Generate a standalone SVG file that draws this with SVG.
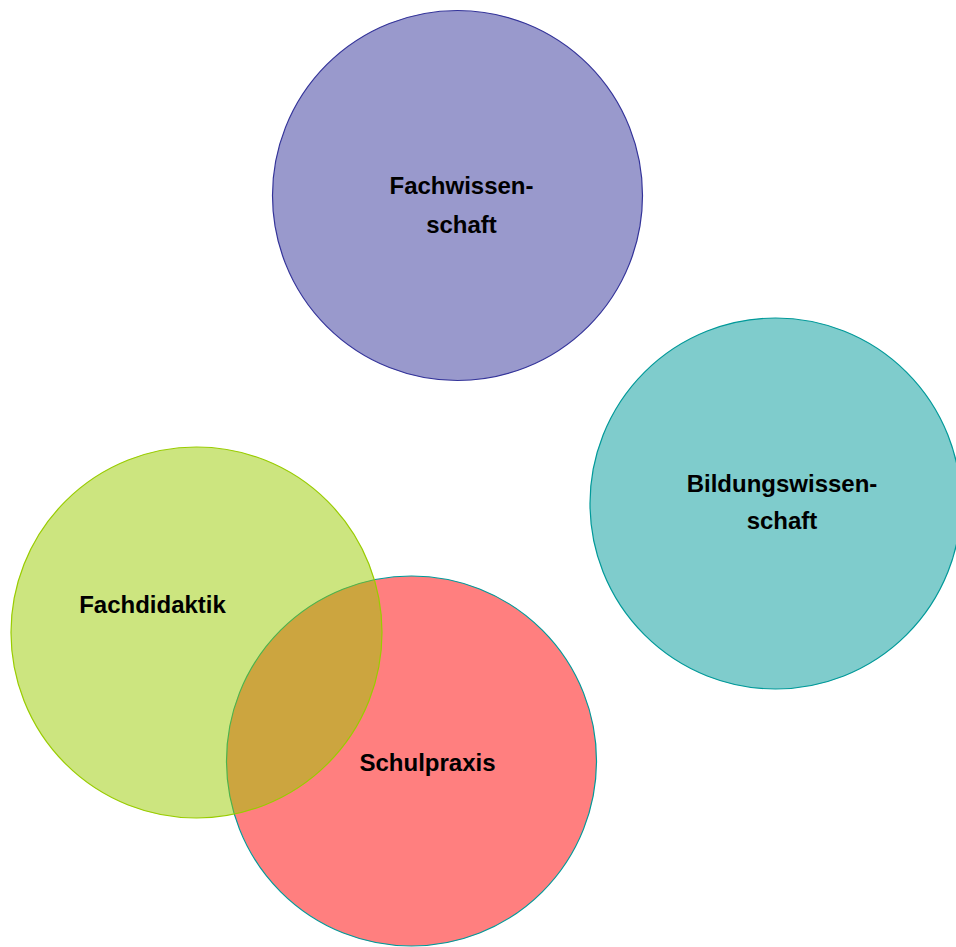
<svg xmlns="http://www.w3.org/2000/svg" width="956" height="947" viewBox="0 0 956 947">
<style>
.c{stroke-width:1.2}
.t{font-family:"Liberation Sans",Arial,sans-serif;font-weight:bold;font-size:24px;fill:#000;text-anchor:middle}
</style>
<rect width="956" height="947" fill="#fff"/>
<g id="fachwissenschaft">
<circle class="c" cx="457.5" cy="195.5" r="185" fill="#333399" fill-opacity="0.5" stroke="#333399"/>
<text class="t" x="461.5" y="194">Fachwissen-</text>
<text class="t" x="461.5" y="233">schaft</text>
</g>
<g id="bildungswissenschaft">
<circle class="c" cx="775.5" cy="503.5" r="185.5" fill="#009999" fill-opacity="0.5" stroke="#009999"/>
<text class="t" x="782" y="492">Bildungswissen-</text>
<text class="t" x="782" y="529">schaft</text>
</g>
<g id="schulpraxis">
<circle class="c" cx="411.5" cy="761" r="185" fill="#ff0000" fill-opacity="0.5" stroke="#009999"/>
<text class="t" x="427.5" y="771">Schulpraxis</text>
</g>
<g id="fachdidaktik">
<circle class="c" cx="196.5" cy="632.5" r="185.5" fill="#99cc00" fill-opacity="0.5" stroke="#99cc00"/>
<text class="t" x="152.5" y="613">Fachdidaktik</text>
</g>
<g id="connectors"></g>
</svg>
